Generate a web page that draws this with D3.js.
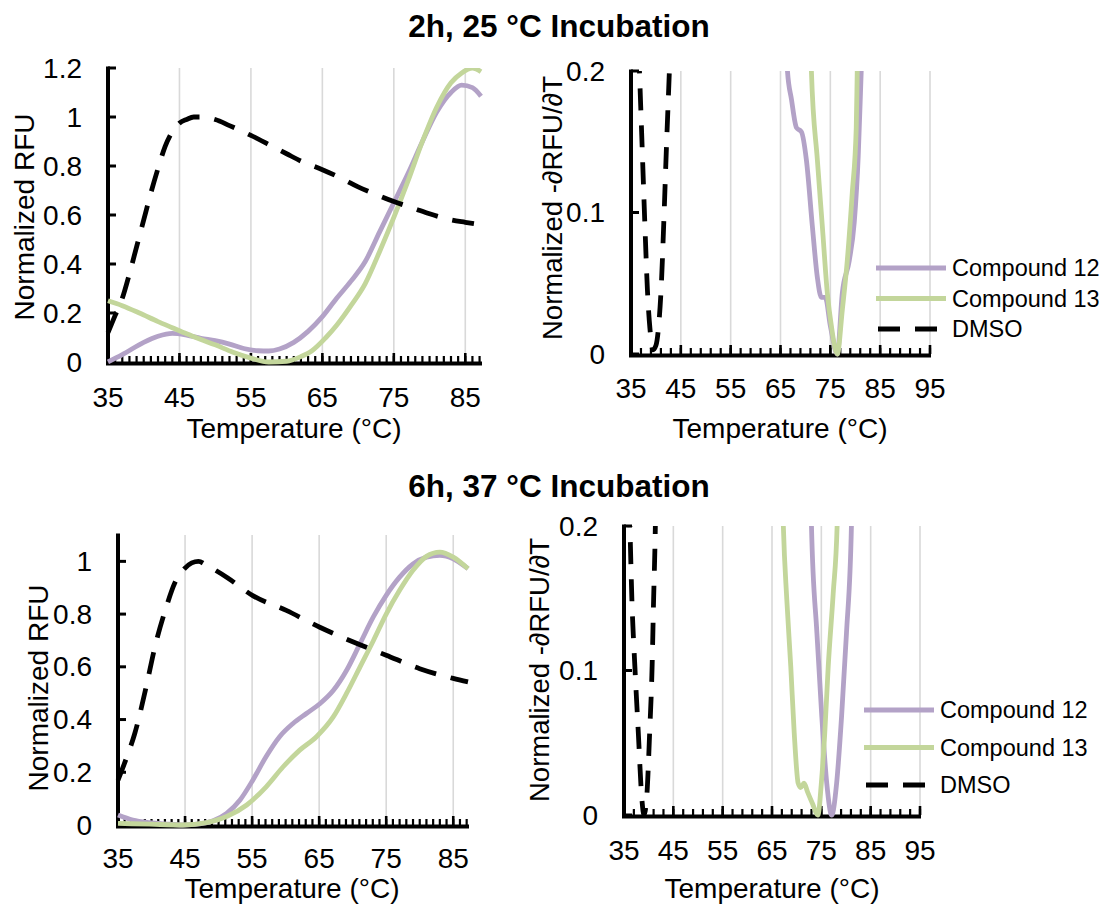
<!DOCTYPE html>
<html>
<head>
<meta charset="utf-8">
<script src="https://cdn.jsdelivr.net/npm/d3@7/dist/d3.min.js"></script>
<style>
  html, body { margin: 0; padding: 0; background: #fff; }
  svg { display: block; }
  text { font-family: "Liberation Sans", Arial, sans-serif; fill: #000; }
</style>
</head>
<body>
<svg id="chart" width="1106" height="905"></svg>
<script>
// ---------------- DATA ----------------
const titles = ["2h, 25 °C Incubation", "6h, 37 °C Incubation"];
const seriesNames = ["Compound 12", "Compound 13", "DMSO"];
const xLabel = "Temperature (°C)";
const yLabelLeft = "Normalized RFU";
const yLabelRight = "Normalized -\u2202RFU/\u2202T";

const xTicksLeft = [35, 45, 55, 65, 75, 85];
const xTicksRight = [35, 45, 55, 65, 75, 85, 95];
const yTicksTopLeft = [0, 0.2, 0.4, 0.6, 0.8, 1, 1.2];
const yTicksBottomLeft = [0, 0.2, 0.4, 0.6, 0.8, 1];
const yTicksRight = [0, 0.1, 0.2];

// Top-left: 2h 25°C melt curves
const tlC12T = [35, 37, 40, 42, 44, 46, 48, 50, 52, 54, 56, 57.5, 59, 61, 63, 65, 67, 69, 71, 73, 75, 77, 79, 81, 83, 84.5, 86, 87.2];
const tlC12V = [0.0, 0.03, 0.08, 0.105, 0.117, 0.11, 0.097, 0.087, 0.073, 0.055, 0.046, 0.045, 0.053, 0.08, 0.125, 0.185, 0.26, 0.33, 0.41, 0.53, 0.65, 0.77, 0.9, 1.02, 1.1, 1.13, 1.12, 1.085];
const tlC13T = [35, 37, 39.4, 42, 44, 46, 48, 50, 52.5, 55, 57.5, 60, 62, 63.5, 65.5, 67, 69, 71, 73, 75, 77, 79, 81, 83, 84.5, 86, 87.2];
const tlC13V = [0.25, 0.23, 0.2, 0.165, 0.14, 0.115, 0.092, 0.07, 0.04, 0.016, 0.0, 0.003, 0.022, 0.045, 0.1, 0.15, 0.23, 0.32, 0.45, 0.59, 0.74, 0.9, 1.04, 1.14, 1.18, 1.2, 1.185];
const tlDmsoT = [35, 36, 37, 38, 39, 40, 41, 42, 43, 44, 45, 46, 47, 48, 50, 52, 55, 58, 60, 62, 65, 68, 70, 72, 75, 78, 80, 83, 85, 87.2];
const tlDmsoV = [0.12, 0.19, 0.26, 0.36, 0.47, 0.58, 0.69, 0.79, 0.88, 0.94, 0.975, 0.99, 1.0, 1.0, 0.99, 0.965, 0.925, 0.88, 0.85, 0.82, 0.785, 0.745, 0.715, 0.69, 0.655, 0.625, 0.605, 0.58, 0.57, 0.56];

// Top-right: 2h 25°C derivative
const trC12T = [66.0, 66.4, 67.2, 68.2, 69.2, 70.2, 71.4, 72.4, 73.2, 74.0, 75.0, 76.4, 77.4, 78.8, 79.8, 80.6, 81.2, 81.6];
const trC12V = [0.23, 0.2, 0.18, 0.16, 0.157, 0.137, 0.09, 0.054, 0.04, 0.04, 0.02, 0.0, 0.043, 0.066, 0.093, 0.14, 0.2, 0.24];
const trC13T = [70.9, 71.2, 72.4, 73.4, 74.4, 75.2, 76.4, 77.4, 78.4, 79.4, 80.2, 80.4, 80.6];
const trC13V = [0.24, 0.2, 0.137, 0.09, 0.043, 0.02, 0.0, 0.031, 0.066, 0.114, 0.16, 0.2, 0.24];
const trDmsoT = [36.3, 36.7, 37.2, 37.8, 38.3, 38.8, 39.4, 40.0, 40.5, 41.1, 41.6, 42.1, 42.7, 43.1];
const trDmsoV = [0.24, 0.2, 0.15, 0.09, 0.045, 0.018, 0.003, 0.006, 0.018, 0.05, 0.095, 0.145, 0.2, 0.24];

// Bottom-left: 6h 37°C melt curves
const blC12T = [35, 37.2, 39.7, 42, 44.7, 47.2, 49.2, 51.2, 53.2, 55.1, 57.1, 59.1, 61.1, 63.1, 65.1, 67.1, 69.1, 71.1, 73.1, 75, 77, 79, 81, 83, 85, 87.2];
const blC12V = [0.038, 0.019, 0.009, 0.004, 0.0, 0.004, 0.016, 0.044, 0.095, 0.17, 0.26, 0.335, 0.385, 0.423, 0.46, 0.51, 0.587, 0.688, 0.79, 0.871, 0.94, 0.99, 1.016, 1.023, 1.01, 0.972];
const blC13T = [35, 39.7, 44.7, 48.2, 51.2, 54.2, 57.1, 59.6, 62.1, 64.6, 67.1, 69.1, 71.1, 73.1, 75, 77, 79, 81, 83, 85, 87.2];
const blC13V = [0.006, 0.003, 0.0, 0.009, 0.032, 0.076, 0.145, 0.22, 0.284, 0.335, 0.41, 0.5, 0.6, 0.7, 0.8, 0.89, 0.966, 1.019, 1.035, 1.016, 0.972];
const blDmsoT = [35, 36.2, 37.5, 39.2, 40.5, 42.2, 43.5, 44.5, 46, 47, 48.2, 51.2, 55.1, 60.1, 65.1, 70.1, 75, 80, 85, 87.2];
const blDmsoV = [0.17, 0.25, 0.347, 0.524, 0.675, 0.827, 0.92, 0.96, 0.994, 1.0, 0.985, 0.94, 0.87, 0.814, 0.75, 0.694, 0.644, 0.593, 0.556, 0.543];

// Bottom-right: 6h 37°C derivative
const brC12T = [72.8, 73.0, 74.1, 75.1, 76.1, 77.1, 78.1, 79.1, 80.1, 81.1, 81.3];
const brC12V = [0.24, 0.2, 0.126, 0.068, 0.022, 0.0, 0.022, 0.068, 0.126, 0.2, 0.24];
const brC13T = [67.0, 67.3, 68.0, 68.8, 69.5, 70.3, 70.8, 71.5, 72.2, 73.2, 74.3, 75.0, 75.7, 76.4, 77.4, 78.2, 78.5];
const brC13V = [0.24, 0.2, 0.149, 0.103, 0.057, 0.022, 0.019, 0.022, 0.016, 0.008, 0.0, 0.022, 0.057, 0.103, 0.153, 0.2, 0.24];
const brDmsoT = [35.9, 36.2, 36.6, 37.2, 37.9, 38.6, 39.05, 39.6, 40.2, 40.7, 41.0, 41.3, 41.5];
const brDmsoV = [0.24, 0.2, 0.149, 0.103, 0.057, 0.012, 0.0, 0.012, 0.057, 0.103, 0.149, 0.19, 0.23];

// ---------------- STYLE ----------------
const colors = ["#b3a2c7", "#c3d69b", "#000000"];
const FONT = 28;
const DASH = "22,15";

const svg = d3.select("#chart");
const zip = (T, V) => T.map((t, i) => [t, V[i]]);

function drawPanel(p, idx) {
  const x = d3.scaleLinear().domain(p.xDomain).range([p.left, p.right]);
  const y = d3.scaleLinear().domain(p.yDomain).range([p.bottom, p.top]);
  const g = svg.append("g");

  // gridlines
  g.selectAll("line.grid").data(p.xTicks.filter(t => t !== p.xDomain[0]))
    .enter().append("line")
    .attr("x1", d => x(d)).attr("x2", d => x(d))
    .attr("y1", p.top).attr("y2", p.bottom)
    .attr("stroke", "#d9d9d9").attr("stroke-width", 1.6);

  // x axis: minor ticks (upwards), major ticks, line
  const minor = d3.range(p.xDomain[0], p.xDomain[1] + 0.001, p.minorStep);
  g.selectAll("line.minor").data(minor).enter().append("line")
    .attr("x1", d => x(d)).attr("x2", d => x(d))
    .attr("y1", p.bottom).attr("y2", p.bottom - 6)
    .attr("stroke", "#000").attr("stroke-width", 2.2);
  g.selectAll("line.major").data(p.xTicks).enter().append("line")
    .attr("x1", d => x(d)).attr("x2", d => x(d))
    .attr("y1", p.bottom).attr("y2", p.bottom - 9)
    .attr("stroke", "#000").attr("stroke-width", 2.6);
  g.append("line")
    .attr("x1", p.left - 2).attr("x2", p.right + 1)
    .attr("y1", p.bottom + 1.5).attr("y2", p.bottom + 1.5)
    .attr("stroke", "#000").attr("stroke-width", 4);

  // y axis
  g.append("line")
    .attr("x1", p.left).attr("x2", p.left)
    .attr("y1", p.top - 1.5).attr("y2", p.bottom + 3)
    .attr("stroke", "#000").attr("stroke-width", 4);
  g.selectAll("line.ytick").data(p.yTicks).enter().append("line")
    .attr("x1", p.left).attr("x2", p.left + 8)
    .attr("y1", d => y(d)).attr("y2", d => y(d))
    .attr("stroke", "#000").attr("stroke-width", 3);

  // tick labels
  g.selectAll("text.xt").data(p.xTicks).enter().append("text")
    .attr("x", d => x(d)).attr("y", p.xTickBase)
    .attr("text-anchor", "middle").attr("font-size", FONT)
    .text(d => d);
  g.selectAll("text.yt").data(p.yTicks).enter().append("text")
    .attr("x", p.yTickRight).attr("y", d => y(d))
    .attr("text-anchor", "end").attr("dominant-baseline", "central")
    .attr("font-size", FONT)
    .text(d => d);

  // axis titles
  g.append("text")
    .attr("x", p.xLabelX).attr("y", p.xLabelBase)
    .attr("text-anchor", "middle").attr("font-size", FONT)
    .text(xLabel);
  g.append("text")
    .attr("transform", `translate(${p.yLabelX},${p.yLabelY}) rotate(-90)`)
    .attr("text-anchor", "middle").attr("dominant-baseline", "central")
    .attr("font-size", p.yLabelSize || FONT)
    .text(p.yLabel);

  // clip
  const cid = "clip" + idx;
  svg.append("clipPath").attr("id", cid).append("rect")
    .attr("x", p.left - 4).attr("y", p.top)
    .attr("width", p.right - p.left + 8).attr("height", p.bottom - p.top + 5);

  const line = d3.line().x(d => x(d[0])).y(d => y(d[1])).curve(d3.curveMonotoneX);
  const sg = svg.append("g").attr("clip-path", `url(#${cid})`);
  p.series.forEach((s, i) => {
    sg.append("path")
      .attr("d", line(s))
      .attr("fill", "none")
      .attr("stroke", colors[i])
      .attr("stroke-width", 4.8)
      .attr("stroke-linejoin", "round")
      .attr("stroke-dasharray", i === 2 ? DASH : null);
  });

  // legend
  if (p.legend) {
    seriesNames.forEach((name, i) => {
      const ly = p.legend.y0 + i * p.legend.dy;
      svg.append("line")
        .attr("x1", p.legend.x1 + (i === 2 ? 2 : 0))
        .attr("x2", i === 2 ? p.legend.x1 + 61 : p.legend.x2)
        .attr("y1", ly).attr("y2", ly)
        .attr("stroke", colors[i]).attr("stroke-width", 4.8)
        .attr("stroke-dasharray", i === 2 ? DASH : null);
      svg.append("text")
        .attr("x", p.legend.tx).attr("y", ly)
        .attr("dominant-baseline", "central")
        .attr("font-size", 23.5)
        .text(name);
    });
  }
}

const panels = [
  { left: 108, right: 481, top: 68, bottom: 362, xDomain: [35, 87.2], yDomain: [0, 1.2],
    xTicks: xTicksLeft, yTicks: yTicksTopLeft, minorStep: 1,
    xTickBase: 407, yTickRight: 82, xLabelX: 294, xLabelBase: 438,
    yLabel: yLabelLeft, yLabelX: 24, yLabelY: 217,
    series: [zip(tlC12T, tlC12V), zip(tlC13T, tlC13V), zip(tlDmsoT, tlDmsoV)] },
  { left: 631, right: 930, top: 71, bottom: 354, xDomain: [35, 95], yDomain: [0, 0.2],
    xTicks: xTicksRight, yTicks: yTicksRight, minorStep: 2,
    xTickBase: 398, yTickRight: 605, xLabelX: 780, xLabelBase: 438,
    yLabel: yLabelRight, yLabelX: 552, yLabelY: 208, yLabelSize: 27.5,
    series: [zip(trC12T, trC12V), zip(trC13T, trC13V), zip(trDmsoT, trDmsoV)],
    legend: { x1: 876, x2: 946, tx: 952, y0: 268, dy: 30.5 } },
  { left: 118, right: 468, top: 535, bottom: 825, xDomain: [35, 87.2], yDomain: [0, 1.1],
    xTicks: xTicksLeft, yTicks: yTicksBottomLeft, minorStep: 1,
    xTickBase: 868, yTickRight: 92, xLabelX: 292, xLabelBase: 898,
    yLabel: yLabelLeft, yLabelX: 38, yLabelY: 688,
    series: [zip(blC12T, blC12V), zip(blC13T, blC13V), zip(blDmsoT, blDmsoV)] },
  { left: 624, right: 920, top: 526, bottom: 815, xDomain: [35, 95], yDomain: [0, 0.2],
    xTicks: xTicksRight, yTicks: yTicksRight, minorStep: 2,
    xTickBase: 860, yTickRight: 598, xLabelX: 772, xLabelBase: 898,
    yLabel: yLabelRight, yLabelX: 539, yLabelY: 670, yLabelSize: 27.5,
    series: [zip(brC12T, brC12V), zip(brC13T, brC13V), zip(brDmsoT, brDmsoV)],
    legend: { x1: 864, x2: 934, tx: 940, y0: 710, dy: 37.5 } }
];

panels.forEach(drawPanel);

// titles
svg.append("text").attr("x", 559).attr("y", 37)
  .attr("text-anchor", "middle").attr("font-size", 31.5).attr("font-weight", "bold")
  .text(titles[0]);
svg.append("text").attr("x", 559).attr("y", 497)
  .attr("text-anchor", "middle").attr("font-size", 31.5).attr("font-weight", "bold")
  .text(titles[1]);
</script>
</body>
</html>
